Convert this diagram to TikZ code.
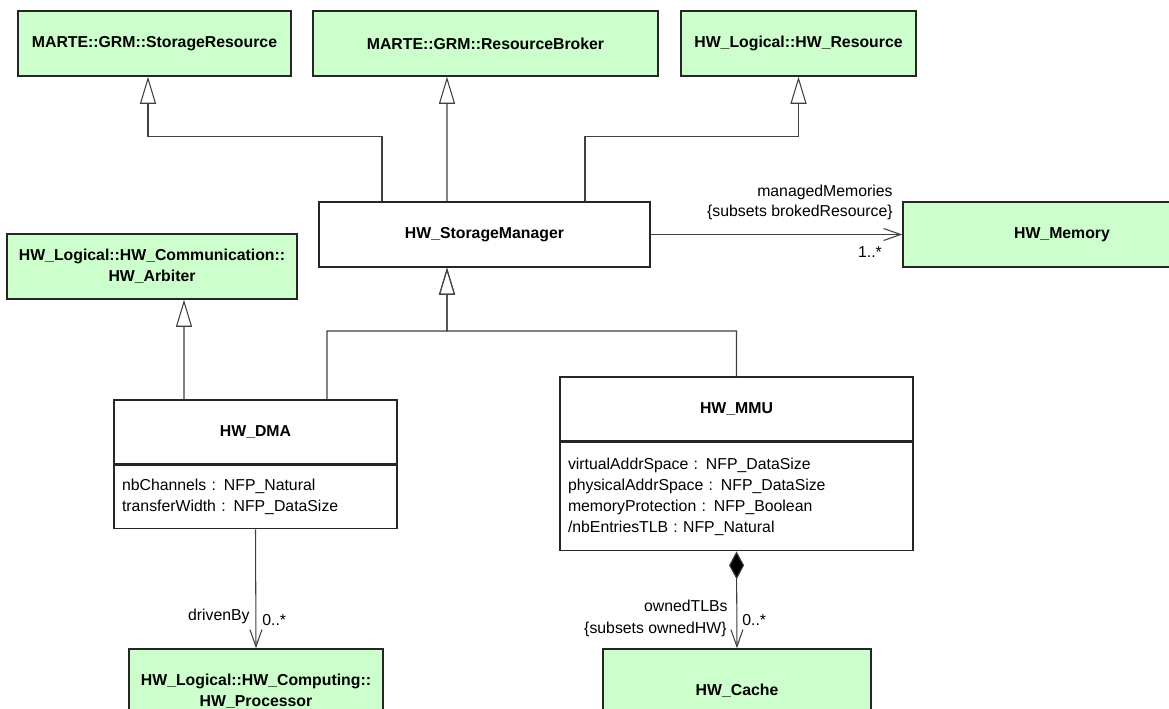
\documentclass[tikz,border=0pt]{standalone}
\usepackage{fontspec}
\setmainfont{Liberation Sans}
\usetikzlibrary{arrows.meta}
\definecolor{umlgreen}{RGB}{204,255,204}

\begin{document}
\begin{tikzpicture}[
  cls/.style={draw=black!85, line width=0.9pt, minimum height=1.30cm, inner sep=2pt,
    font=\fontsize{9}{12}\selectfont\bfseries, align=center},
  ext/.style={cls, fill=umlgreen},
  attrs/.style={draw=black!85, line width=0.9pt, anchor=north, align=left,
    inner xsep=0.16cm, inner ysep=2pt},
  gen/.style={-{Triangle[open, length=0.54cm, width=0.32cm]}, draw=black!75, line width=0.6pt},
  assoc/.style={-{Straight Barb[length=0.34cm, width=0.24cm]}, draw=black!75, line width=0.6pt},
  comp/.style={{Diamond[length=0.56cm, width=0.30cm, fill=black]}-{Straight Barb[length=0.34cm, width=0.24cm]},
    draw=black!75, line width=0.6pt},
  role/.style={inner sep=0pt},
  every node/.style={font=\fontsize{9}{12}\selectfont}
 ]
\useasboundingbox (0,0) rectangle (23.38,-14.18);

\node[ext, minimum width=5.46cm] (sres) at (3.09,-0.87) {MARTE::GRM::StorageResource};
\node[ext, minimum width=6.90cm] (broker) at (9.71,-0.87) {MARTE::GRM::ResourceBroker};
\node[ext, minimum width=4.70cm] (hwres) at (15.97,-0.87) {HW\_Logical::HW\_Resource};

\node[cls, minimum width=6.62cm] (mgr) at (9.69,-4.69) {HW\_StorageManager};
\node[ext, minimum width=6.36cm] (mem) at (21.24,-4.69) {HW\_Memory};
\node[ext, minimum width=5.80cm] (arb) at (3.04,-5.33) {HW\_Logical::HW\_Communication::\\HW\_Arbiter};

\node[cls, minimum width=5.66cm, minimum height=1.28cm] (dma) at (5.11,-8.64) {HW\_DMA};
\node[attrs, text width=5.34cm, minimum height=1.26cm] (dmaattr) at (dma.south)
  {nbChannels : NFP\_Natural\\transferWidth : NFP\_DataSize};
\node[cls, minimum width=7.06cm, minimum height=1.28cm] (mmu) at (14.73,-8.18) {HW\_MMU};
\node[attrs, text width=6.74cm, minimum height=2.16cm] (mmuattr) at (mmu.south)
  {virtualAddrSpace : NFP\_DataSize\\physicalAddrSpace : NFP\_DataSize\\memoryProtection : NFP\_Boolean\\/nbEntriesTLB : NFP\_Natural};

\node[ext, minimum width=5.08cm, minimum height=1.68cm] (proc) at (5.12,-13.82) {HW\_Logical::HW\_Computing::\\HW\_Processor};
\node[ext, minimum width=5.36cm, minimum height=1.68cm] (cache) at (14.74,-13.82) {HW\_Cache};

\coordinate (gj) at (8.94,-6.62);
\draw[gen] ([xshift=-2.05cm]mgr.north) -- ++(0,1.30) -| ([xshift=-0.13cm]sres.south);
\draw[gen] ([xshift=-0.75cm]mgr.north) -- ([xshift=-0.77cm]broker.south);
\draw[gen] ([xshift=2.01cm]mgr.north) -- ++(0,1.30) -| (hwres.south);
\draw[gen] ([xshift=1.43cm]dma.north) |- (gj) -- ([xshift=-0.75cm]mgr.south);
\draw[gen] (mmu.north) |- (gj) -- ([xshift=-0.75cm]mgr.south);
\draw[gen] ([xshift=-1.43cm]dma.north) -- ([xshift=0.64cm]arb.south);
\draw[assoc] (mgr.east) -- (mem.west);
\draw[assoc] (dmaattr.south) -- (proc.north);
\draw[comp] (mmuattr.south) -- (cache.north);

\node[role, anchor=east] (mmname) at (17.86,-3.84) {managedMemories};
\node[role, anchor=east] (mmsub) at (17.86,-4.24) {\{subsets brokedResource\}};
\node[role] (mmmult) at (17.40,-5.04) {1..*};
\node[role, anchor=east] (dbname) at (5.00,-12.32) {drivenBy};
\node[role, anchor=west] (dbmult) at (5.24,-12.40) {0..*};
\node[role, anchor=east] (tlbname) at (14.56,-12.12) {ownedTLBs};
\node[role, anchor=east] (tlbsub) at (14.54,-12.58) {\{subsets ownedHW\}};
\node[role, anchor=west] (tlbmult) at (14.84,-12.40) {0..*};
\end{tikzpicture}
\end{document}
